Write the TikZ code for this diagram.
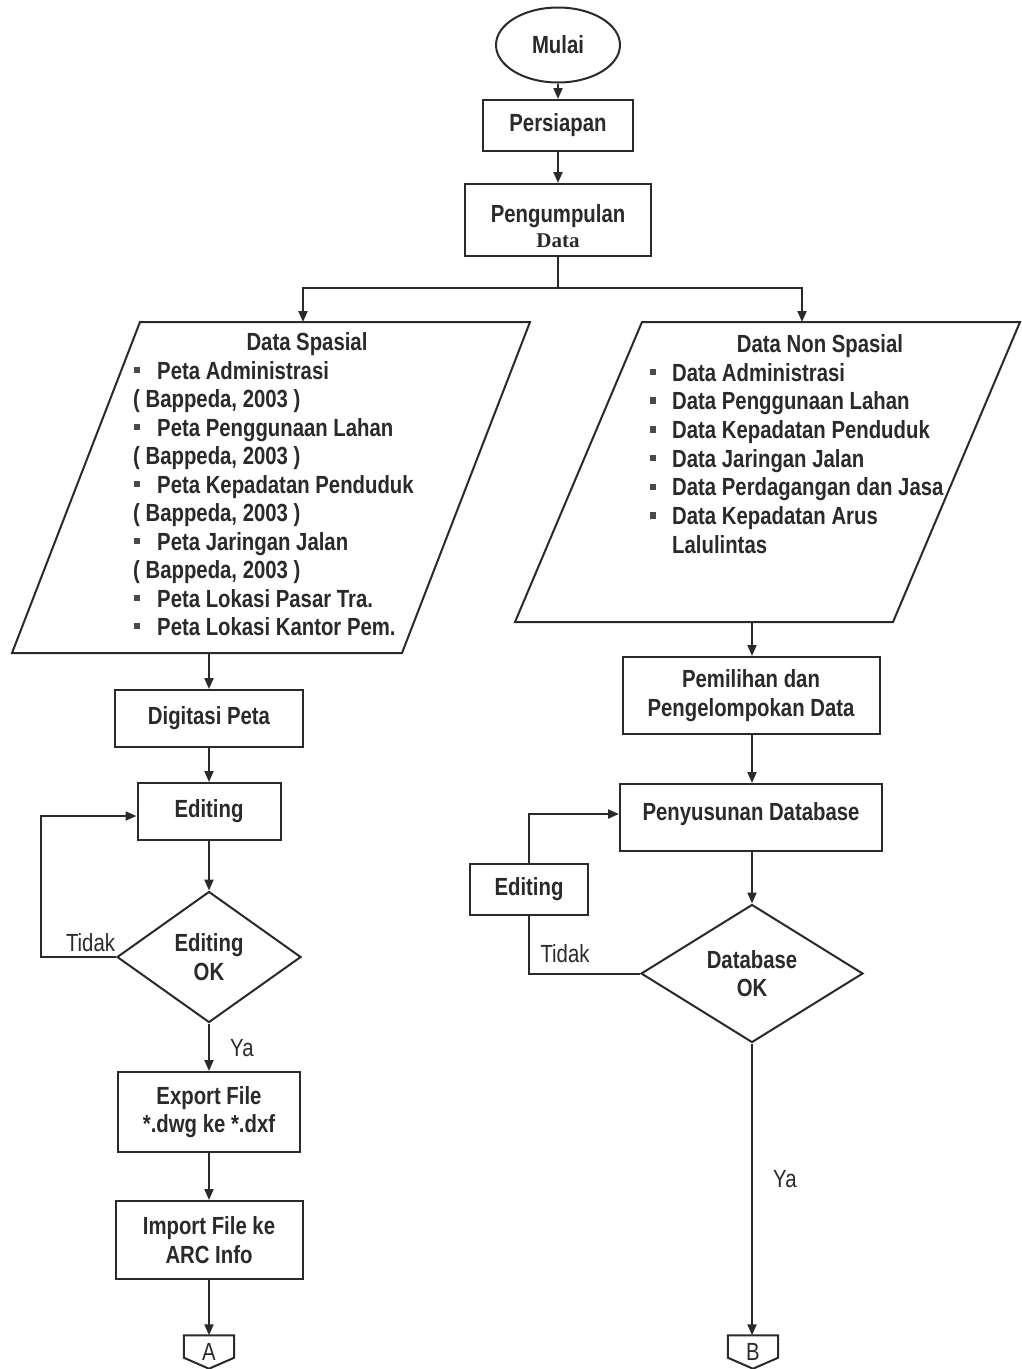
\documentclass[tikz,border=0pt]{standalone}
\usepackage{fontspec}
\setmainfont{Liberation Sans}[FakeStretch=0.82]
\newfontfamily\serifface{Liberation Serif}
\usetikzlibrary{shapes.geometric,arrows.meta}
\definecolor{ink}{HTML}{2A2A2A}
\newcommand\flowfont{\fontsize{24.8}{28.5}\selectfont}

\begin{document}
\begin{tikzpicture}[x=1pt,y=-1pt,
  every node/.style={text=ink},
  ln/.style={draw=ink,line width=2pt},
  arr/.style={ln,-{Triangle[length=11pt,width=9pt]}},
  box/.style={draw=ink,line width=2pt,rectangle,inner sep=0pt,align=center,font=\flowfont\bfseries},
  term/.style={box,ellipse},
  decision/.style={box,diamond},
  plain/.style={font=\flowfont,inner sep=0pt},
  bold/.style={font=\flowfont\bfseries,inner sep=0pt},
  bullet/.style={fill=ink!85,inner sep=0pt,minimum size=6.5pt,rectangle},
  offpage/.style={inner sep=0pt,minimum width=50pt,minimum height=33pt,font=\flowfont}
]
\useasboundingbox (0,0) rectangle (1021,1369);
\fill[white] (0,0) rectangle (1021,1369);

% ---- top of the chart ----
\node[term,minimum width=124pt,minimum height=75pt] (mulai) at (558,45) {Mulai};
\node[box,minimum width=150pt,minimum height=51pt] (persiapan) at (558,125.5) {Persiapan};
\node[box,minimum width=186pt,minimum height=72pt] (kumpul) at (558,220) {};
\node[bold,anchor=base] (kumpulA) at (558,222) {Pengumpulan};
\node[inner sep=0pt,anchor=base,font=\serifface\bfseries\fontsize{21}{24}\selectfont] (kumpulB) at (558,247) {Data};

\draw[arr] (mulai) -- (persiapan);
\draw[arr] (persiapan) -- (kumpul);

\coordinate (split) at (558,288);
\coordinate (spTop) at (303,322);
\coordinate (nsTop) at (802,322);
\draw[ln] (kumpul.south) -- (split);
\draw[arr] (split) -| (spTop);
\draw[arr] (split) -| (nsTop);

% ---- spatial data (left input) ----
\draw[ln,line join=miter] (140,322) -- (530,322) -- (402,653) -- (12,653) -- cycle;
\coordinate (spBot) at (209,653);
\node[bold,anchor=base] (spTitle) at (307,350) {Data Spasial};
\foreach \yy/\txt/\hasb in {
  379/Peta Administrasi/1,
  407/( Bappeda{,} 2003 )/0,
  436/Peta Penggunaan Lahan/1,
  464/( Bappeda{,} 2003 )/0,
  493/Peta Kepadatan Penduduk/1,
  521/( Bappeda{,} 2003 )/0,
  550/Peta Jaringan Jalan/1,
  578/( Bappeda{,} 2003 )/0,
  607/Peta Lokasi Pasar Tra./1,
  635/Peta Lokasi Kantor Pem./1}{
  \ifnum\hasb=1
    \node[bullet] at (137,\yy-9) {};
    \node[bold,anchor=base west] at (157,\yy) {\txt};
  \else
    \node[bold,anchor=base west] at (133,\yy) {\txt};
  \fi
}

% ---- non-spatial data (right input) ----
\draw[ln,line join=miter] (642,322) -- (1020,322) -- (893,622) -- (515,622) -- cycle;
\coordinate (nsBot) at (752,622);
\node[bold,anchor=base] (nsTitle) at (820,352) {Data Non Spasial};
\foreach \yy/\txt in {
  381/Data Administrasi,
  409.7/Data Penggunaan Lahan,
  438.4/Data Kepadatan Penduduk,
  467.1/Data Jaringan Jalan,
  495.8/Data Perdagangan dan Jasa,
  524.5/Data Kepadatan Arus}{
  \node[bullet] at (653,\yy-9) {};
  \node[bold,anchor=base west] at (672,\yy) {\txt};
}
\node[bold,anchor=base west] at (672,553.2) {Lalulintas};

% ---- left branch ----
\node[box,minimum width=188pt,minimum height=57pt] (digit) at (209,718.5) {Digitasi Peta};
\node[box,minimum width=143pt,minimum height=57pt] (edit1) at (209,811.5) {Editing};
\node[decision,minimum width=184pt,minimum height=131pt] (ok1) at (209,957) {Editing\\OK};
\node[box,minimum width=182pt,minimum height=80pt] (export) at (209,1112) {Export File\\*.dwg ke *.dxf};
\node[box,minimum width=187pt,minimum height=78pt] (import) at (209,1240) {Import File ke\\ARC Info};
\node[offpage] (offA) at (209,1352) {A};
\draw[ln,line join=miter] (offA.north west) -- (offA.north east) -- ([yshift=11pt]offA.south east)
  -- (offA.south) -- ([yshift=11pt]offA.south west) -- cycle;

\draw[arr] (spBot) -- (digit);
\draw[arr] (digit) -- (edit1);
\draw[arr] (edit1) -- (ok1);
\draw[arr] (ok1.west) -- ++(-75,0) |- ([yshift=-4.5pt]edit1.west);
\node[plain,anchor=base] at (90.5,951) {Tidak};
\draw[arr] (ok1.south) -- (export);
\node[plain,anchor=base west] at (230,1056) {Ya};
\draw[arr] (export) -- (import);
\draw[arr] (import) -- (offA);

% ---- right branch ----
\node[box,minimum width=257pt,minimum height=77pt] (pilih) at (751,695.5) {Pemilihan dan\\Pengelompokan Data};
\node[box,minimum width=262pt,minimum height=67pt,text depth=11pt] (susun) at (751,817.5) {Penyusunan Database};
\node[box,minimum width=118pt,minimum height=51pt] (edit2) at (529,889.5) {Editing};
\node[decision,minimum width=222pt,minimum height=138pt] (ok2) at (752,973.5) {Database\\OK};
\node[offpage] (offB) at (753,1352) {B};
\draw[ln,line join=miter] (offB.north west) -- (offB.north east) -- ([yshift=11pt]offB.south east)
  -- (offB.south) -- ([yshift=11pt]offB.south west) -- cycle;

\draw[arr] (nsBot) -- (nsBot |- pilih.north);
\draw[arr] (pilih.south -| nsBot) -- (nsBot |- susun.north);
\draw[arr] (susun.south -| ok2.north) -- (ok2.north);
\draw[ln] (ok2.west) -| (edit2.south);
\node[plain,anchor=base] at (565,962) {Tidak};
\draw[arr] (edit2.north) |- ([yshift=3.5pt]susun.west);
\draw[arr] (ok2.south) -- (ok2.south |- offB.north);
\node[plain,anchor=base west] at (773,1187) {Ya};
\end{tikzpicture}
\end{document}
